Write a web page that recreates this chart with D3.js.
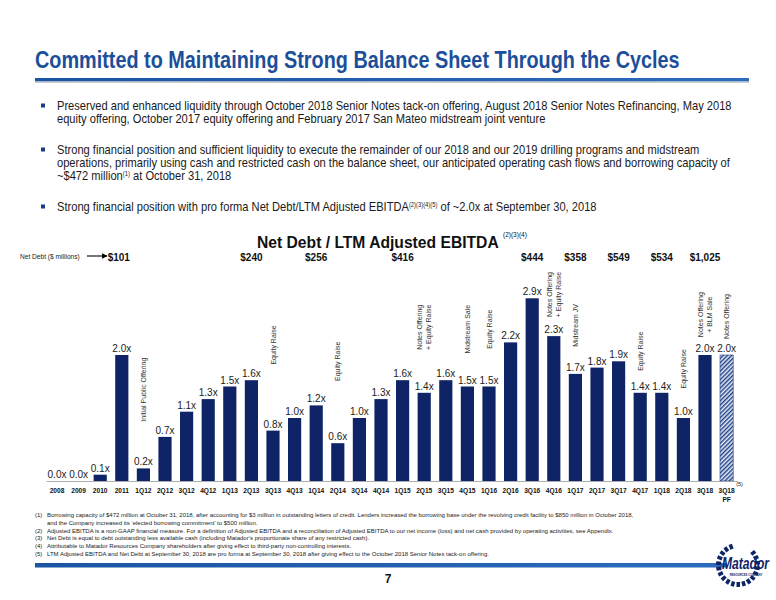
<!DOCTYPE html>
<html>
<head>
<meta charset="utf-8">
<title>Net Debt / LTM Adjusted EBITDA</title>
<script src="https://d3js.org/d3.v7.min.js"></script>
<style>
body { margin: 0; background: #fff; }
svg { display: block; font-family: 'Liberation Sans', Arial, sans-serif; }
</style>
</head>
<body>
<svg id="slide" width="776" height="600"></svg>
<script type="text/javascript">
// chart data
var categories = ["2008","2009","2010","2011","1Q12","2Q12","3Q12","4Q12","1Q13","2Q13","3Q13","4Q13",
  "1Q14","2Q14","3Q14","4Q14","1Q15","2Q15","3Q15","4Q15","1Q16","2Q16","3Q16","4Q16",
  "1Q17","2Q17","3Q17","4Q17","1Q18","2Q18","3Q18","3Q18 PF"];
var ratios = [0.0,0.0,0.1,2.0,0.2,0.7,1.1,1.3,1.5,1.6,0.8,1.0,
  1.2,0.6,1.0,1.3,1.6,1.4,1.6,1.5,1.5,2.2,2.9,2.3,
  1.7,1.8,1.9,1.4,1.4,1.0,2.0,2.0];
var debtCats = ["2011","2Q13","1Q14","1Q15","3Q16","1Q17","3Q17","1Q18","3Q18"];
var debtLabels = ["$101","$240","$256","$416","$444","$358","$549","$534","$1,025"];
// events written above the bars; "at" is the ratio level where the note is centred
var notes = [
  {cat: "1Q12", lines: ["Initial Public Offering"], at: 1.45},
  {cat: "3Q13", lines: ["Equity Raise"], at: 2.16},
  {cat: "2Q14", lines: ["Equity Raise"], at: 1.90},
  {cat: "2Q15", lines: ["Notes Offering", "+ Equity Raise"], at: 2.44},
  {cat: "4Q15", lines: ["Midstream Sale"], at: 2.41},
  {cat: "1Q16", lines: ["Equity Raise"], at: 2.41},
  {cat: "4Q16", lines: ["Notes Offering", "+ Equity Raise"], at: 2.96},
  {cat: "1Q17", lines: ["Midstream JV"], at: 2.47},
  {cat: "4Q17", lines: ["Equity Raise"], at: 2.06},
  {cat: "2Q18", lines: ["Equity Raise"], at: 1.78},
  {cat: "3Q18", lines: ["Notes Offering", "+ BLM Sale"], at: 2.64},
  {cat: "3Q18 PF", lines: ["Notes Offering"], at: 2.61}
];

var bullets = [
  [["Preserved and enhanced liquidity through October 2018 Senior Notes tack-on offering, August 2018 Senior Notes Refinancing, May 2018"],
   ["equity offering, October 2017 equity offering and February 2017 San Mateo midstream joint venture"]],
  [["Strong financial position and sufficient liquidity to execute the remainder of our 2018 and our 2019 drilling programs and midstream"],
   ["operations, primarily using cash and restricted cash on the balance sheet, our anticipated operating cash flows and borrowing capacity of"],
   ["~$472 million", "(1)", " at October 31, 2018"]],
  [["Strong financial position with pro forma Net Debt/LTM Adjusted EBITDA", "(2)(3)(4)(5)", " of ~2.0x at September 30, 2018"]]
];
var footnotes = [
  ["(1)", "Borrowing capacity of $472 million at October 31, 2018, after accounting for $3 million in outstanding letters of credit. Lenders increased the borrowing base under the revolving credit facility to $850 million in October 2018,"],
  ["", "and the Company increased its \u2018elected borrowing commitment\u2019 to $500 million."],
  ["(2)", "Adjusted EBITDA is a non-GAAP financial measure. For a definition of Adjusted EBITDA and a reconciliation of Adjusted EBITDA to our net income (loss) and net cash provided by operating activities, see Appendix."],
  ["(3)", "Net Debt is equal to debt outstanding less available cash (including Matador\u2019s proportionate share of any restricted cash)."],
  ["(4)", "Attributable to Matador Resources Company shareholders after giving effect to third-party non-controlling interests."],
  ["(5)", "LTM Adjusted EBITDA and Net Debt at September 30, 2018 are pro forma at September 30, 2018 after giving effect to the October 2018 Senior Notes tack-on offering."]
];

var navy = "#0f2466";
var blue = "#1c4f9a";
var svg = d3.select("#slide");
var defs = svg.append("defs");

// the slide fonts are condensed: squeeze a group so its first text gets the wanted width
function squeeze(g, x0, width){
  var len = g.select("text").node().getComputedTextLength();
  g.attr("transform", "translate(" + x0 + ",0) scale(" + (width / len) + ",1)");
}

// hatch for the pro forma bar
var hatch = defs.append("pattern").attr("id", "hatch")
  .attr("patternUnits", "userSpaceOnUse").attr("width", 3).attr("height", 3)
  .attr("patternTransform", "rotate(45)");
hatch.append("rect").attr("width", 3).attr("height", 3).attr("fill", "#e4eaf5");
hatch.append("rect").attr("width", 1.4).attr("height", 3).attr("fill", "#1d3f86");

defs.append("marker").attr("id", "arrow").attr("viewBox", "0 0 10 10")
  .attr("refX", 9).attr("refY", 5).attr("markerWidth", 5).attr("markerHeight", 5)
  .attr("orient", "auto")
  .append("path").attr("d", "M0,0L10,5L0,10z").attr("fill", "#000");

var rule = defs.append("linearGradient").attr("id", "rule");
rule.append("stop").attr("offset", "0%").attr("stop-color", "#1a55a3");
rule.append("stop").attr("offset", "100%").attr("stop-color", "#2b6cbc");

// header
var head = svg.append("g");
head.append("text").attr("x", 0).attr("y", 68)
  .attr("font-weight", "bold").attr("font-size", 23).attr("fill", blue)
  .text("Committed to Maintaining Strong Balance Sheet Through the Cycles");
squeeze(head, 35, 645);
svg.append("rect").attr("x", 35).attr("y", 81).attr("width", 714).attr("height", 2)
  .attr("fill", "#c9ccd2");
svg.append("rect").attr("x", 35).attr("y", 78).attr("width", 714).attr("height", 3.2)
  .attr("fill", "url(#rule)");

var bulletTop = [106, 150, 207];
var bulletBlock = svg.append("g");
bullets.forEach(function(lines, b){
  svg.append("rect").attr("x", 41).attr("y", bulletTop[b] - 2.5).attr("width", 4).attr("height", 4)
    .attr("fill", "#1b3d7e");
  lines.forEach(function(parts, i){
    var t = bulletBlock.append("text").attr("x", 0).attr("y", bulletTop[b] + 4.5 + i * 12.6)
      .attr("font-size", 12.4).attr("fill", "#1a1a1a");
    parts.forEach(function(p, k){
      if (k == 1) {
        t.append("tspan").attr("font-size", 6.5).attr("dy", -4).text(p);
      } else {
        t.append("tspan").attr("dy", k == 2 ? 4 : 0).text(p);
      }
    });
  });
});
squeeze(bulletBlock, 57, 675);

// chart
var x = d3.scaleBand().domain(categories).range([46.2, 737.4])
  .paddingInner(0.39).paddingOuter(0.195);
var y = d3.scaleLinear().domain([0, 3.5]).range([481, 260.5]);
var fmt = d3.format(".1f");

var ctitle = svg.append("g");
ctitle.append("text").attr("x", 0).attr("y", 248)
  .attr("font-weight", "bold").attr("font-size", 17).attr("fill", "#111")
  .text("Net Debt / LTM Adjusted EBITDA");
squeeze(ctitle, 257, 242);
svg.append("text").attr("x", 503).attr("y", 237)
  .attr("font-size", 6.5).attr("fill", "#111").text("(2)(3)(4)");

svg.append("text").attr("x", 20).attr("y", 258.5)
  .attr("font-size", 6.6).attr("fill", "#222").text("Net Debt ($ millions)");
svg.append("line").attr("x1", 87).attr("x2", 107).attr("y1", 256).attr("y2", 256)
  .attr("stroke", "#000").attr("stroke-width", 1.1).attr("marker-end", "url(#arrow)");

svg.selectAll(".debt").data(debtCats).enter().append("text")
  .attr("class", "debt")
  .attr("x", function(d){ return x(d) + x.bandwidth() / 2 - (d == "2011" ? 3 : 0); })
  .attr("y", 261)
  .attr("text-anchor", "middle").attr("font-weight", "bold").attr("font-size", 10)
  .attr("fill", "#111")
  .text(function(d, i){ return debtLabels[i]; });

svg.selectAll(".bar").data(categories).enter().append("rect")
  .attr("class", "bar")
  .attr("x", function(d){ return x(d); })
  .attr("y", function(d, i){ return y(ratios[i]); })
  .attr("width", x.bandwidth())
  .attr("height", function(d, i){ return y(0) - y(ratios[i]); })
  .attr("fill", function(d){ return d == "3Q18 PF" ? "url(#hatch)" : navy; })
  .attr("stroke", function(d){ return d == "3Q18 PF" ? "#1d3f86" : "none"; })
  .attr("stroke-width", 0.6);

svg.selectAll(".val").data(categories).enter().append("text")
  .attr("class", "val")
  .attr("x", function(d){ return x(d) + x.bandwidth() / 2; })
  .attr("y", function(d, i){ return y(ratios[i]) - 3; })
  .attr("text-anchor", "middle").attr("font-size", 10).attr("fill", "#222")
  .text(function(d, i){ return fmt(ratios[i]) + "x"; });

var axis = svg.append("g").attr("transform", "translate(0," + y(0) + ")")
  .call(d3.axisBottom(x).tickSize(0).tickSizeOuter(0).tickPadding(7)
    .tickFormat(function(d){ return d.replace(" PF", ""); }));
axis.select(".domain").attr("stroke", "#9a9a9a").attr("stroke-width", 0.8);
axis.selectAll("text").attr("font-family", "'Liberation Sans', Arial, sans-serif")
  .attr("font-size", 6.6).attr("font-weight", "bold").attr("fill", "#111");
axis.selectAll(".tick").filter(function(d){ return d == "3Q18 PF"; })
  .append("text").attr("y", 16).attr("dy", "0.71em").attr("text-anchor", "middle")
  .attr("font-size", 6.6).attr("font-weight", "bold").attr("fill", "#111").text("PF");
svg.append("text").attr("x", x("3Q18 PF") + x.bandwidth() + 3).attr("y", 486)
  .attr("font-size", 5.5).attr("fill", "#222").text("(5)");

var noteG = svg.selectAll(".note").data(notes).enter().append("g")
  .attr("class", "note")
  .attr("transform", function(d){
    return "translate(" + (x(d.cat) + x.bandwidth() / 2) + "," + y(d.at) + ") rotate(-90)";
  });
noteG.selectAll("text").data(function(d){
    return d.lines.map(function(l, i){ return {t: l, off: (i - (d.lines.length - 1) / 2) * 9.5}; });
  }).enter().append("text")
  .attr("y", function(d){ return d.off + 2.5; })
  .attr("text-anchor", "middle").attr("font-size", 7).attr("fill", "#333")
  .text(function(d){ return d.t; });

// footnotes
var footBlock = svg.append("g");
footnotes.forEach(function(f, i){
  var fy = 517 + i * 7.8;
  svg.append("text").attr("x", 35).attr("y", fy)
    .attr("font-size", 6).attr("fill", "#222").text(f[0]);
  footBlock.append("text").attr("x", 0).attr("y", fy)
    .attr("font-size", 6.2).attr("fill", "#222").text(f[1]);
});
squeeze(footBlock, 47, 586);

// footer bar, page number, logo
svg.append("rect").attr("x", 35).attr("y", 563).attr("width", 692).attr("height", 4.5)
  .attr("fill", "url(#rule)");
svg.append("text").attr("x", 388).attr("y", 583).attr("text-anchor", "middle")
  .attr("font-weight", "bold").attr("font-size", 12).attr("fill", "#111").text("7");

var logo = svg.append("g").attr("transform", "translate(738,565)");
d3.range(0, 300, 16).forEach(function(a){
  logo.append("rect").attr("x", -2).attr("y", -22).attr("width", 3.5).attr("height", 5)
    .attr("fill", navy)
    .attr("transform", "rotate(" + (a + 52) + ")");
});
var word = logo.append("g");
word.append("text").attr("x", 0).attr("y", 4)
  .attr("font-weight", "bold").attr("font-style", "italic").attr("font-size", 17)
  .attr("fill", navy).text("Matador");
squeeze(word, -16, 47);
logo.append("text").attr("x", 8).attr("y", 10.5).attr("text-anchor", "middle")
  .attr("font-size", 2.8).attr("font-weight", "bold").attr("fill", navy)
  .text("RESOURCES COMPANY");
</script>
</body>
</html>
